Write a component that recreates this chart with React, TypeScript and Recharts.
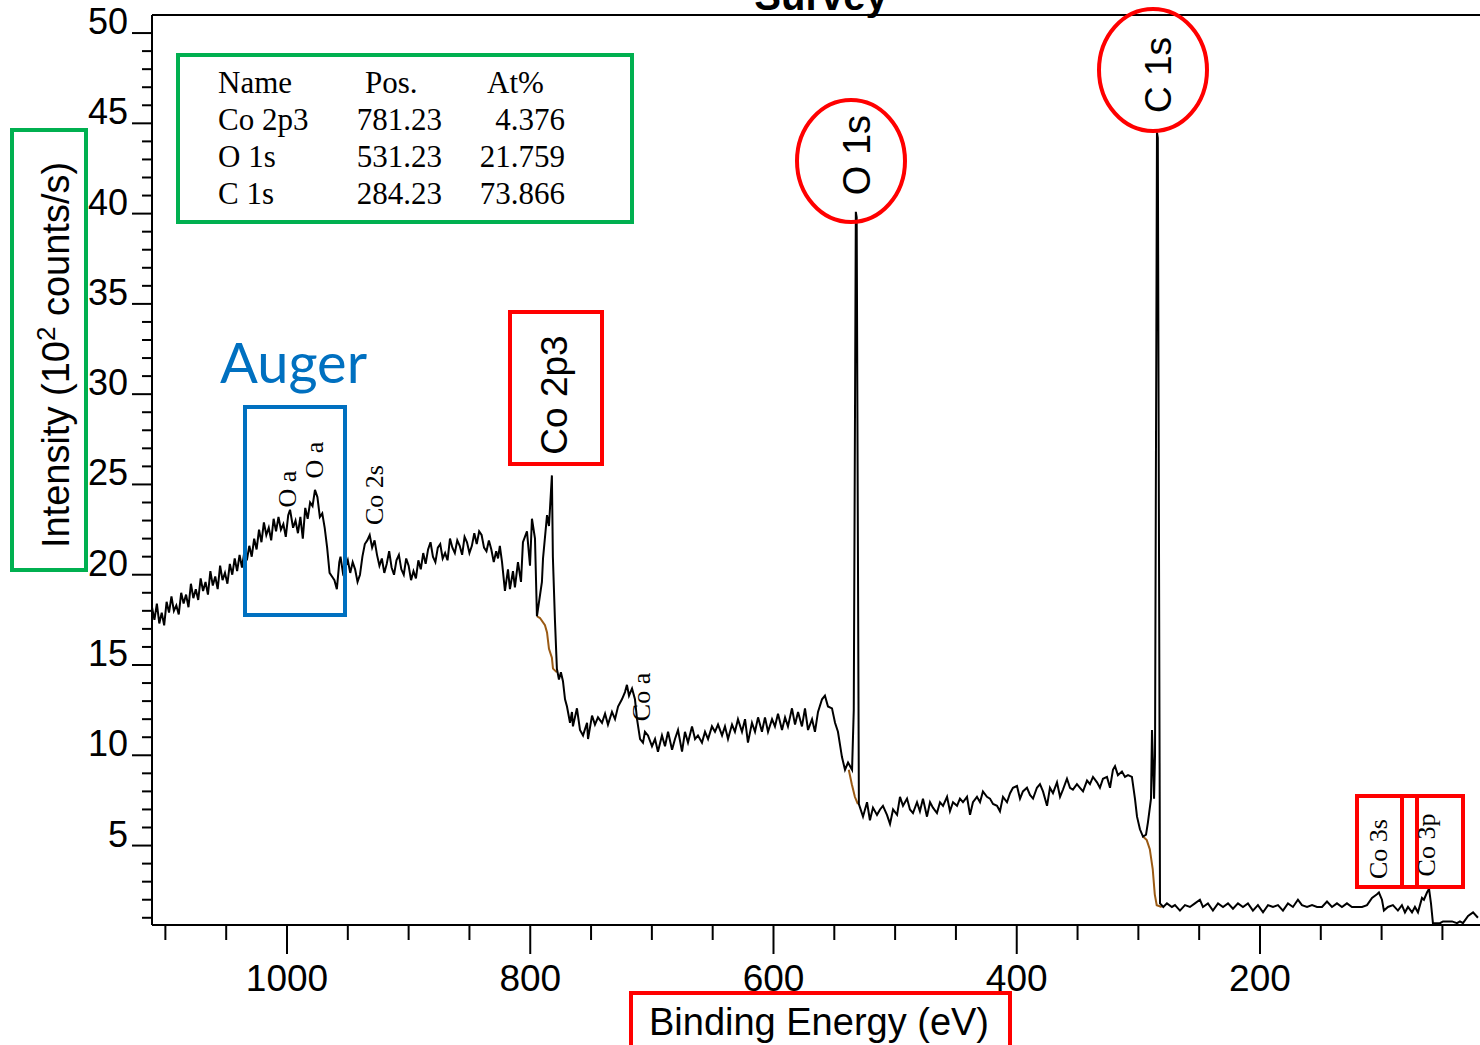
import React from "react";
import { LineChart, Line, XAxis, YAxis, ReferenceLine } from "recharts";

type Pt = [number, number];

// binding energy (eV), intensity (10^2 counts/s)
const augerRegion: Pt[] = [
  [1111, 18.2], [1109, 17.5], [1107, 18.4], [1105, 17.3], [1103, 17.9], [1101, 17.2],
  [1099, 18.5], [1097, 17.9], [1095, 18.8], [1093, 18.0], [1091, 18.3], [1089, 17.8],
  [1087, 19.0], [1085, 18.4], [1083, 18.9], [1081, 18.2], [1079, 19.5], [1077, 18.7],
  [1075, 19.2], [1073, 18.6], [1071, 19.8], [1069, 19.1], [1067, 19.6], [1065, 18.9],
  [1063, 20.2], [1061, 19.4], [1059, 19.9], [1057, 19.2], [1055, 20.5], [1053, 19.7],
  [1051, 20.1], [1049, 19.5], [1047, 20.6], [1045, 20.0], [1043, 20.9], [1041, 20.2],
  [1039, 21.1], [1037, 20.4], [1035, 21.3], [1033, 20.8],
  [1031, 21.6], [1029, 21.0], [1027, 22.0], [1025, 21.4], [1023, 22.5], [1021, 21.8],
  [1019, 22.9], [1017, 22.2], [1015, 22.6], [1013, 21.9], [1011, 23.1], [1009, 22.4],
  [1007, 23.2], [1005, 22.5], [1003, 22.8], [1001, 22.1], [999, 23.3], [997.5, 23.6],
  [995, 22.6], [993, 23.0], [991, 22.3], [989, 23.2], [987, 22.0], [985, 23.7],
  [983, 23.1], [981, 24.0], [979, 23.8], [977, 24.7], [975, 24.3], [973, 23.2],
  [971, 23.4], [969, 22.6], [967, 21.5], [965, 20.1], [963, 19.9], [961, 19.7],
  [959, 19.2], [957, 20.7], [956, 21.0], [954, 20.1], [952, 20.4],
];

const co2sRegion: Pt[] = [
  [950, 20.8], [948, 20.1], [946, 20.7], [944, 20.3], [942, 19.6], [940, 20.0],
  [938, 21.0], [936, 21.7], [934, 21.9], [932, 22.2], [930, 21.5], [928, 21.9],
  [926, 21.1], [924, 20.5], [922, 20.9], [920, 20.1], [918, 20.6], [916, 21.3],
  [914, 20.4], [912, 20.0], [910, 20.8], [908, 21.1], [906, 20.3], [904, 20.0],
  [902, 20.9], [900, 20.5], [898, 19.7], [896, 20.2], [894, 19.8], [892, 20.8],
  [890, 20.3], [888, 21.2], [886, 20.6], [884, 21.4], [882, 21.8], [880, 21.0],
  [878, 20.7], [876, 21.5], [874, 21.7], [872, 20.9], [870, 21.2], [868, 20.8],
  [866, 22.0], [864, 21.5], [862, 21.2], [860, 21.9], [858, 21.6], [856, 21.1],
  [854, 22.1], [852, 21.8], [850, 21.2], [848, 21.6], [846, 22.3], [844, 21.7],
  [842, 22.4], [840, 22.2], [838, 21.5], [836, 21.3], [834, 21.9], [832, 21.4],
  [830, 20.7], [828, 21.3], [826.5, 20.9], [825, 21.6], [823.2, 20.7], [820.8, 19.1],
  [818.3, 20.3], [816.7, 19.2], [814.2, 20.2], [812.6, 19.3], [810.1, 20.7], [807.6, 19.6],
  [806, 21.8], [802.7, 22.4], [800.2, 20.5], [798.6, 23.1], [796.1, 22.0], [794.5, 17.7],
];

const co2pRegion: Pt[] = [
  [790.4, 19.6], [789.5, 20.9], [786.2, 23.3], [784.6, 22.7], [782.2, 25.5], [781.4, 21.0],
  [779.7, 17.5], [778.1, 14.8], [776.4, 14.2], [774.8, 14.6], [773.1, 14.1], [771.4, 13.1],
  [769.8, 12.7], [767.3, 11.8], [765.7, 12.4], [764.9, 11.6], [761.6, 12.6], [759.1, 11.4],
  [756.6, 11.1], [753.3, 11.8], [752.5, 10.9], [749.2, 12.2], [746.8, 11.7], [744.3, 12.1],
  [741.0, 11.8], [738.5, 12.3], [736.1, 11.7], [732.8, 12.4], [730.3, 12.0], [727.8, 12.7],
  [724.6, 13.1], [722.1, 13.5], [720.5, 13.9], [718.8, 13.3], [716.3, 13.7], [713.9, 13.1],
  [712.2, 12.0], [709.7, 10.9], [707.3, 10.7], [705.7, 11.3], [703.2, 11.1], [699.9, 10.5],
  [697.4, 10.9], [695.0, 10.2], [691.7, 11.1], [689.2, 10.5], [686.7, 11.3], [683.4, 10.3],
  [681.0, 10.9], [678.5, 11.4], [675.2, 10.2], [672.8, 11.3], [670.3, 10.7], [667.0, 11.6],
  [664.5, 10.9], [662.1, 11.1], [658.8, 10.7], [656.3, 11.3], [653.8, 10.9], [650.6, 11.6],
  [648.1, 11.3], [645.6, 11.7], [642.3, 11.1], [639.9, 11.6], [637.4, 10.9], [634.1, 11.7],
  [631.7, 11.3], [629.2, 12.0], [625.9, 11.3], [623.4, 12.0], [621.0, 10.7], [617.7, 11.8],
  [615.2, 11.3], [612.7, 12.1], [609.5, 11.3], [607.0, 12.1], [604.5, 11.3], [601.2, 12.0],
  [598.8, 11.6], [596.3, 12.3], [593.0, 11.4], [590.5, 12.1], [588.1, 11.6], [584.8, 12.6],
  [582.3, 11.7], [579.8, 12.4], [576.6, 11.6], [574.1, 12.6], [571.6, 11.4], [568.3, 12.0],
  [565.9, 11.3], [563.4, 12.4], [560.1, 13.1], [557.7, 13.3], [555.2, 12.7], [551.9, 12.6],
  [549.4, 11.8], [547.0, 11.3], [543.7, 9.9], [541.2, 9.2], [538.7, 9.6], [535.4, 9.2],
];

const o1sRegion: Pt[] = [
  [534.0, 12.5], [532.3, 40.1], [531.6, 39.8], [529.8, 7.3],
  [526.4, 6.6], [523.1, 7.4], [520.7, 6.4], [518.2, 7.1], [514.9, 6.7], [512.4, 7.0],
  [510.0, 7.2], [506.7, 6.7], [504.2, 6.2], [501.7, 7.0], [498.4, 6.7], [496.0, 7.7],
  [493.5, 7.2], [490.2, 7.6], [487.8, 7.0], [485.3, 6.8], [482.0, 7.4], [479.6, 6.9],
  [477.1, 7.6], [473.8, 6.6], [471.3, 7.4], [468.9, 7.1], [465.6, 6.8], [463.1, 7.4],
  [460.6, 7.2], [457.3, 7.7], [454.9, 6.9], [452.4, 7.4], [449.1, 7.2], [446.7, 7.6],
  [444.2, 7.4], [440.9, 7.7], [438.4, 6.7], [436.0, 7.4], [432.7, 7.7], [430.2, 7.4],
  [427.8, 8.0], [424.5, 7.7], [422.0, 7.6], [419.5, 7.3], [416.2, 7.2], [413.8, 6.9],
  [411.3, 7.7], [408.0, 7.4], [405.5, 7.9], [403.1, 8.2], [399.8, 8.3], [397.3, 7.6],
  [394.9, 8.0], [391.6, 8.2], [389.1, 7.8], [386.6, 7.6], [383.4, 8.2], [380.9, 8.4],
  [378.4, 8.0], [375.1, 7.2], [372.7, 8.2], [370.2, 7.9], [366.9, 8.5], [364.4, 7.7],
  [362.0, 8.1], [358.7, 8.7], [356.2, 8.2], [353.8, 8.1], [350.5, 8.4], [348.0, 8.2],
  [345.5, 8.0], [342.2, 8.6], [339.8, 8.4], [337.3, 8.8], [334.0, 8.5], [331.6, 8.2],
  [329.1, 8.7], [325.8, 8.8], [323.3, 8.2], [320.9, 9.2], [319.2, 9.4], [316.8, 8.9],
  [313.5, 9.1], [311.0, 8.8], [308.5, 8.9], [305.3, 8.8], [302.8, 7.6], [301.1, 6.6],
  [298.7, 5.9], [296.2, 5.5], [293.7, 5.6], [292.1, 6.3], [289.6, 7.6], [288.8, 11.4],
  [287.1, 7.6],
];

const c1sRegion: Pt[] = [
  [286.3, 10.0], [284.7, 44.5], [284.0, 44.2], [282.2, 1.8],
  [279.5, 1.6], [276.5, 1.8], [272.4, 1.6], [269.9, 1.7], [265.8, 1.4], [261.7, 1.7],
  [257.6, 1.6], [253.5, 1.8], [249.4, 2.0], [246.9, 1.6], [242.8, 1.8], [238.7, 1.4],
  [234.5, 1.8], [230.4, 1.6], [226.3, 1.8], [222.2, 1.5], [218.1, 1.8], [214.0, 1.6],
  [209.9, 1.8], [205.8, 1.4], [201.7, 1.7], [197.5, 1.3], [193.4, 1.7], [189.3, 1.6],
  [185.2, 1.7], [181.1, 1.4], [177.0, 1.8], [172.9, 1.6], [168.8, 2.0], [165.5, 1.7],
  [161.3, 1.6], [157.2, 1.7], [153.1, 1.6], [149.0, 1.6], [144.9, 1.9], [140.8, 1.6],
  [136.7, 1.8], [132.6, 1.6], [128.5, 1.8], [124.4, 1.6], [120.3, 1.6], [116.1, 1.6],
  [112.0, 1.7],
];

const co3Region: Pt[] = [
  [107.9, 2.1], [103.8, 2.3], [102.2, 2.4], [99.7, 2.0], [98.1, 1.4], [94.8, 1.6],
  [90.7, 1.7], [86.6, 1.4], [83.3, 1.7], [80.8, 1.3], [78.3, 1.6], [75.0, 1.3],
  [72.6, 1.6], [70.1, 1.3], [66.8, 2.1], [65.2, 2.0], [62.7, 2.4], [61.0, 2.6],
  [59.4, 1.8], [57.8, 0.7], [52.0, 0.7], [49.5, 0.8], [42.1, 0.8], [38.0, 0.7],
  [35.6, 0.8], [33.1, 0.7], [28.9, 1.1], [24.8, 1.3], [20.8, 1.0],
];

// Shirley backgrounds under the fitted peaks
const co2pBackground: Pt[] = [
  [794.5, 17.7], [792.0, 17.6], [787.9, 17.2], [786.2, 16.8], [785.5, 16.4],
  [784.6, 15.9], [782.2, 15.4], [781.3, 14.8], [778.1, 14.6],
];
const o1sBackground: Pt[] = [
  [538.1, 9.2], [535.6, 8.4], [533.1, 7.7], [530.6, 7.3],
];
const c1sBackground: Pt[] = [
  [296.2, 5.5], [293.1, 5.3], [290.6, 4.8], [288.2, 3.7], [286.5, 2.3], [284.9, 1.7], [280.8, 1.6],
];

const peakTable = [
  { name: "Co 2p3", pos: "781.23", at: "4.376" },
  { name: "O 1s", pos: "531.23", at: "21.759" },
  { name: "C 1s", pos: "284.23", at: "73.866" },
];

const xTicks = [1100, 1050, 1000, 950, 900, 850, 800, 750, 700, 650, 600, 550, 500, 450, 400, 350, 300, 250, 200, 150, 100, 50];
const yTicks = [
  1, 2, 3, 4, 5, 6, 7, 8, 9, 10, 11, 12, 13, 14, 15, 16, 17, 18, 19, 20, 21, 22, 23, 24, 25,
  26, 27, 28, 29, 30, 31, 32, 33, 34, 35, 36, 37, 38, 39, 40, 41, 42, 43, 44, 45, 46, 47, 48, 49, 50,
];

const toRows = (pts: Pt[]) => pts.map(([be, cps]) => ({ be, cps }));
const spectrum = toRows([...augerRegion, ...co2sRegion, ...co2pRegion, ...o1sRegion, ...c1sRegion, ...co3Region]);

const SANS = "'Liberation Sans', Arial, sans-serif";
const SERIF = "'Liberation Serif', 'Times New Roman', serif";
const RED = "#ff0000";
const GREEN = "#00b050";
const BLUE = "#0070c0";
const BROWN = "#9a5a14";

const XTick = (props: any) => {
  const { x, y, payload } = props;
  const major = payload.value % 200 === 0;
  return (
    <g>
      <line x1={x} x2={x} y1={y} y2={y + (major ? 29 : 15)} stroke="#000" strokeWidth={2} />
      {major && (
        <text x={x} y={y + 66} textAnchor="middle" fontSize={37} fontFamily={SANS} fill="#000">
          {payload.value}
        </text>
      )}
    </g>
  );
};

const YTick = (props: any) => {
  const { x, y, payload } = props;
  const major = payload.value % 5 === 0;
  return (
    <g>
      <line x1={x - (major ? 20 : 10)} x2={x} y1={y} y2={y} stroke="#000" strokeWidth={2} />
      {major && (
        <text x={x - 24} y={y + 1} textAnchor="end" fontSize={36} fontFamily={SANS} fill="#000">
          {payload.value}
        </text>
      )}
    </g>
  );
};

const VText = ({ x, y, size, font, children }: any) => (
  <text transform={`translate(${x},${y}) rotate(-90)`} textAnchor="middle" fontSize={size} fontFamily={font} fill="#000">
    {children}
  </text>
);

function App() {
  return (
    <div style={{ position: "absolute", left: 0, top: 0, width: 1480, height: 1045, overflow: "hidden", background: "#fff" }}>
      <div style={{ position: "absolute", left: 0, top: 0 }}>
        <LineChart width={1480} height={1045} margin={{ top: 15, right: 0, bottom: 60, left: 92 }}>
          <XAxis
            dataKey="be"
            type="number"
            domain={[19.1, 1111]}
            reversed
            allowDataOverflow
            ticks={xTicks}
            interval={0}
            height={60}
            tickSize={0}
            tickMargin={0}
            tickLine={false}
            tick={<XTick />}
            axisLine={{ stroke: "#000", strokeWidth: 2 }}
          />
          <YAxis
            type="number"
            domain={[0.6, 51]}
            allowDataOverflow
            ticks={yTicks}
            interval={0}
            width={60}
            tickSize={0}
            tickMargin={0}
            tickLine={false}
            tick={<YTick />}
            axisLine={{ stroke: "#000", strokeWidth: 2 }}
          />
          <ReferenceLine y={51} stroke="#000" strokeWidth={2} />
          <Line data={toRows(co2pBackground)} dataKey="cps" type="linear" stroke={BROWN} strokeWidth={2} dot={false} isAnimationActive={false} />
          <Line data={toRows(o1sBackground)} dataKey="cps" type="linear" stroke={BROWN} strokeWidth={2} dot={false} isAnimationActive={false} />
          <Line data={toRows(c1sBackground)} dataKey="cps" type="linear" stroke={BROWN} strokeWidth={2} dot={false} isAnimationActive={false} />
          <Line data={spectrum} dataKey="cps" type="linear" stroke="#000" strokeWidth={2} dot={false} isAnimationActive={false} />
        </LineChart>
      </div>

      <svg width={1480} height={1045} style={{ position: "absolute", left: 0, top: 0, pointerEvents: "none" }}>
        <text x={821} y={10} textAnchor="middle" fontSize={40} fontWeight="bold" fontFamily={SANS}>Survey</text>

        {/* peak table */}
        <rect x={178} y={55} width={454} height={167} fill="none" stroke={GREEN} strokeWidth={4} />
        <g fontFamily={SERIF} fontSize={31} fill="#000">
          <text x={218} y={93}>Name</text>
          <text x={365} y={93}>Pos.</text>
          <text x={487} y={93}>At%</text>
          {peakTable.map((r, i) => (
            <g key={r.name}>
              <text x={218} y={130 + i * 37}>{r.name}</text>
              <text x={442} y={130 + i * 37} textAnchor="end">{r.pos}</text>
              <text x={565} y={130 + i * 37} textAnchor="end">{r.at}</text>
            </g>
          ))}
        </g>

        {/* axis titles */}
        <rect x={12} y={130} width={74} height={440} fill="none" stroke={GREEN} strokeWidth={4} />
        <text transform="translate(69,355) rotate(-90)" textAnchor="middle" fontSize={38} fontFamily={SANS} fill="#000">
          Intensity (10<tspan dy={-14} fontSize={26}>2</tspan><tspan dy={14}> counts/s)</tspan>
        </text>
        <rect x={631} y={993} width={379} height={70} fill="none" stroke={RED} strokeWidth={4} />
        <text x={819} y={1035} textAnchor="middle" fontSize={38} fontFamily={SANS} fill="#000">Binding Energy (eV)</text>

        {/* Auger */}
        <text x={220} y={383} fontSize={56} fontFamily="Lato, 'Open Sans', sans-serif" fill={BLUE}>Auger</text>
        <rect x={245} y={407} width={100} height={208} fill="none" stroke={BLUE} strokeWidth={4} />

        {/* main peaks */}
        <rect x={510} y={312} width={92} height={152} fill="none" stroke={RED} strokeWidth={4} />
        <VText x={567} y={395} size={37} font={SANS}>Co 2p3</VText>
        <ellipse cx={851} cy={161} rx={54} ry={61} fill="none" stroke={RED} strokeWidth={4} />
        <VText x={870} y={155} size={38} font={SANS}>O 1s</VText>
        <ellipse cx={1153} cy={70} rx={54} ry={61} fill="none" stroke={RED} strokeWidth={4} />
        <VText x={1171} y={75} size={37} font={SANS}>C 1s</VText>

        {/* minor peak labels */}
        <VText x={296} y={489} size={26} font={SERIF}>O a</VText>
        <VText x={323} y={460} size={26} font={SERIF}>O a</VText>
        <VText x={383} y={495} size={26} font={SERIF}>Co 2s</VText>
        <VText x={650} y={697} size={26} font={SERIF}>Co a</VText>

        <rect x={1357} y={796} width={45} height={91} fill="none" stroke={RED} strokeWidth={4} />
        <rect x={1402} y={796} width={15} height={91} fill="none" stroke={RED} strokeWidth={4} />
        <rect x={1417} y={796} width={46} height={91} fill="none" stroke={RED} strokeWidth={4} />
        <VText x={1387} y={849} size={26} font={SERIF}>Co 3s</VText>
        <VText x={1435} y={845} size={26} font={SERIF}>Co 3p</VText>
      </svg>
    </div>
  );
}

export default App;
